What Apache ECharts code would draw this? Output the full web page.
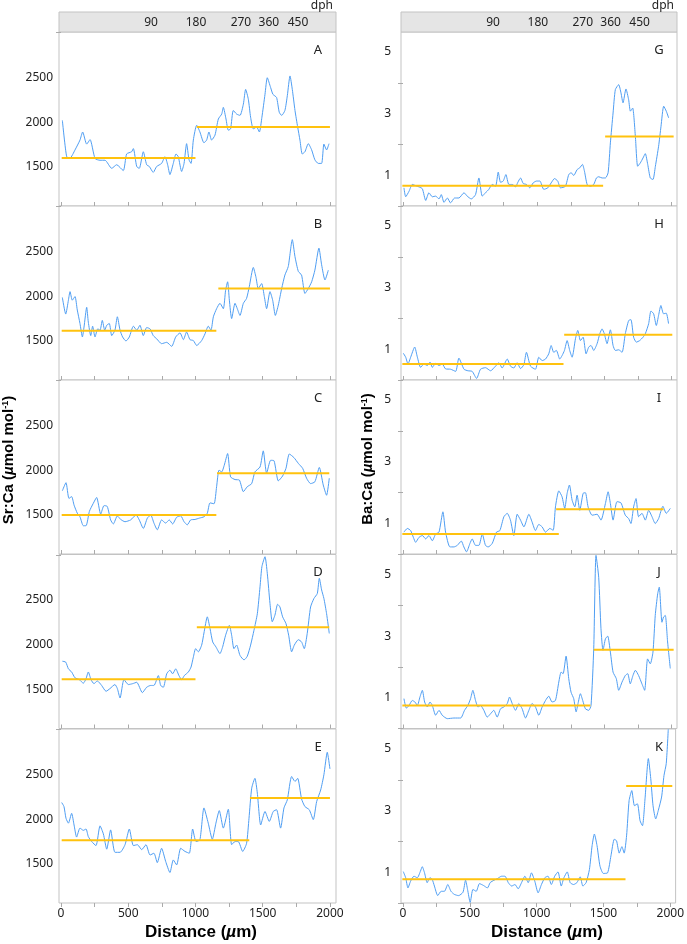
<!DOCTYPE html>
<html>
<head>
<meta charset="utf-8">
<script src="https://cdn.jsdelivr.net/npm/echarts@6/dist/echarts.min.js"></script>
<style>
html,body{margin:0;padding:0;background:#fff;}
#chart{width:687px;height:944px;}
</style>
</head>
<body>
<div id="chart"></div>
<script>
// ---- Data: [distance (µm), ratio] ----
const srA = [[10,2020],[42,1615],[67,1600],[104,1690],[141,1800],[161,1890],[191,1755],[216,1805],[253,1595],[290,1575],[327,1575],[377,1485],[414,1525],[463,1460],[488,1645],[525,1670],[538,1705],[563,1505],[582,1485],[612,1670],[637,1525],[657,1505],[686,1440],[711,1505],[748,1540],[773,1615],[793,1525],[810,1415],[835,1540],[855,1645],[872,1615],[897,1450],[915,1540],[934,1760],[952,1580],[967,1540],[984,1800],[1009,1965],[1033,1890],[1063,1770],[1083,1800],[1100,1890],[1120,1800],[1145,1855],[1170,2035],[1195,2090],[1207,2165],[1227,2035],[1244,1910],[1261,1925],[1281,2130],[1306,2090],[1331,2075],[1356,2200],[1373,2365],[1393,2255],[1410,2055],[1430,1925],[1455,1945],[1475,1890],[1494,2055],[1517,2310],[1534,2495],[1559,2385],[1576,2310],[1603,2275],[1623,2110],[1641,2075],[1665,2130],[1683,2295],[1703,2515],[1720,2365],[1740,2130],[1760,1945],[1777,1800],[1794,1645],[1814,1670],[1839,1760],[1864,1690],[1888,1580],[1913,1540],[1938,1540],[1955,1755],[1975,1690],[1993,1760]];
const srB = [[10,1985],[35,1800],[55,1955],[67,2050],[84,1955],[104,1995],[121,1845],[141,1695],[159,1545],[171,1655],[191,1875],[203,1710],[221,1560],[235,1665],[253,1545],[273,1635],[290,1620],[307,1730],[325,1620],[340,1675],[359,1695],[377,1560],[401,1620],[419,1770],[439,1620],[458,1545],[483,1500],[508,1545],[538,1665],[563,1620],[587,1675],[612,1560],[637,1650],[662,1635],[686,1560],[711,1525],[748,1470],[786,1485],[823,1440],[853,1545],[885,1590],[910,1515],[934,1600],[959,1515],[984,1505],[1009,1450],[1046,1505],[1071,1580],[1095,1665],[1115,1620],[1133,1770],[1157,1860],[1182,1920],[1207,1860],[1224,2065],[1239,2160],[1252,1955],[1269,1750],[1294,1920],[1311,1860],[1331,1785],[1356,1920],[1380,1975],[1400,2105],[1430,2320],[1450,2210],[1467,2085],[1492,2140],[1512,1995],[1529,1860],[1554,2050],[1574,1955],[1594,1785],[1616,1900],[1641,2085],[1665,2235],[1690,2330],[1720,2630],[1740,2440],[1765,2275],[1789,2235],[1814,2030],[1839,2085],[1864,2160],[1888,2290],[1918,2535],[1938,2350],[1963,2180],[1988,2290]];
const srC = [[10,1770],[37,1860],[59,1685],[79,1705],[97,1610],[121,1520],[141,1480],[166,1380],[186,1380],[211,1540],[240,1630],[265,1695],[295,1510],[320,1605],[344,1595],[369,1445],[389,1400],[419,1490],[444,1450],[476,1425],[518,1445],[558,1500],[582,1445],[612,1350],[642,1465],[667,1500],[691,1410],[716,1335],[748,1445],[778,1410],[805,1445],[830,1400],[860,1475],[890,1490],[915,1425],[939,1390],[964,1445],[996,1450],[1029,1465],[1063,1480],[1088,1520],[1108,1635],[1138,1625],[1157,1815],[1175,2000],[1195,1980],[1214,2055],[1239,2185],[1261,1925],[1294,1895],[1326,1890],[1356,1760],[1385,1815],[1418,1850],[1442,1980],[1480,2035],[1504,2215],[1529,1965],[1559,2110],[1584,2105],[1616,1880],[1648,1935],[1673,2020],[1698,2180],[1732,2140],[1765,2075],[1797,2020],[1826,1910],[1856,1850],[1888,1870],[1921,2030],[1950,1835],[1975,1720],[1995,1910]];
const srD = [[10,1815],[35,1805],[55,1730],[79,1695],[104,1630],[136,1610],[166,1570],[186,1620],[203,1695],[223,1610],[245,1565],[270,1595],[302,1545],[335,1480],[364,1510],[401,1555],[419,1510],[439,1405],[468,1610],[501,1555],[533,1565],[563,1580],[605,1465],[637,1525],[667,1545],[691,1545],[724,1655],[741,1545],[761,1525],[786,1675],[810,1715],[830,1675],[853,1730],[877,1655],[897,1610],[917,1655],[947,1695],[967,1750],[984,1860],[1001,1955],[1021,1920],[1046,1995],[1063,2130],[1088,2310],[1108,2180],[1128,2030],[1152,1975],[1182,1900],[1202,1975],[1224,2105],[1252,2215],[1269,2105],[1286,1955],[1306,1995],[1331,1880],[1361,1830],[1385,1870],[1410,1995],[1435,2160],[1460,2345],[1480,2645],[1494,2870],[1517,2980],[1534,2795],[1554,2460],[1571,2255],[1591,2330],[1611,2450],[1628,2420],[1648,2310],[1673,2235],[1693,2105],[1715,1920],[1735,1995],[1765,2055],[1789,2030],[1809,1955],[1831,2125],[1856,2420],[1881,2515],[1906,2570],[1921,2740],[1938,2610],[1955,2515],[1975,2345],[1995,2125]];
const srE = [[5,2185],[22,2140],[37,2010],[55,1955],[79,2065],[97,1935],[116,1800],[141,1900],[166,1875],[186,1890],[203,1805],[228,1750],[260,1705],[290,1925],[315,1835],[340,1665],[369,1880],[401,1630],[439,1630],[476,1715],[508,1890],[538,1705],[568,1715],[600,1660],[632,1715],[662,1600],[691,1620],[716,1515],[748,1675],[778,1530],[810,1405],[835,1545],[860,1490],[890,1675],[922,1640],[954,1620],[979,1890],[1004,1750],[1033,1770],[1063,2125],[1095,1955],[1125,1775],[1152,1955],[1177,2095],[1207,1900],[1244,2110],[1269,1715],[1294,1750],[1318,1750],[1351,1640],[1380,1730],[1398,2010],[1418,2345],[1442,2455],[1460,2290],[1485,1935],[1517,2085],[1549,1975],[1578,2085],[1603,2105],[1633,1900],[1658,2125],[1683,2215],[1715,2475],[1740,2420],[1760,2455],[1789,2225],[1814,2140],[1846,2105],[1876,1995],[1901,2195],[1931,2325],[1955,2495],[1980,2745],[2000,2560]];

const baG = [[7,0.59],[20,0.30],[45,0.48],[69,0.70],[94,0.66],[119,0.62],[144,0.56],[169,0.18],[193,0.43],[218,0.30],[243,0.32],[268,0.23],[285,0.37],[305,0.12],[330,0.26],[354,0.10],[384,0.26],[416,0.26],[454,0.43],[478,0.32],[508,0.23],[540,0.37],[565,0.91],[590,0.32],[614,0.43],[639,0.54],[664,0.70],[689,0.64],[709,1.10],[726,0.77],[746,0.81],[766,1.02],[788,0.70],[813,0.70],[838,0.62],[855,0.77],[875,0.91],[895,0.73],[919,0.70],[944,0.59],[969,0.75],[994,0.81],[1019,0.81],[1048,0.54],[1078,0.59],[1103,0.75],[1128,0.89],[1152,0.81],[1172,0.59],[1209,0.64],[1234,1.02],[1252,1.08],[1271,0.99],[1296,1.18],[1316,1.24],[1336,1.35],[1351,1.13],[1371,0.70],[1395,0.64],[1420,0.70],[1440,0.91],[1457,0.95],[1482,0.91],[1507,0.91],[1527,1.08],[1544,2.05],[1564,3.02],[1581,3.78],[1606,3.94],[1623,3.67],[1638,3.35],[1660,3.80],[1680,3.45],[1693,3.08],[1710,3.18],[1730,2.26],[1747,1.29],[1767,1.40],[1787,1.56],[1804,1.70],[1822,1.35],[1841,0.91],[1861,0.86],[1879,1.29],[1903,1.94],[1921,2.59],[1941,3.24],[1960,3.08],[1978,2.86]];
const baH = [[2,0.87],[20,0.74],[37,0.52],[57,0.74],[87,1.07],[107,0.74],[131,0.41],[156,0.52],[181,0.47],[201,0.58],[218,0.41],[243,0.54],[268,0.47],[292,0.52],[317,0.36],[354,0.35],[392,0.28],[416,0.71],[454,0.35],[483,0.30],[515,0.28],[548,0.05],[577,0.35],[614,0.40],[652,0.30],[689,0.45],[714,0.56],[738,0.39],[776,0.68],[800,0.45],[825,0.39],[850,0.56],[875,0.37],[900,0.50],[919,0.90],[949,0.45],[986,0.35],[1011,0.74],[1036,0.63],[1061,0.68],[1085,0.85],[1103,1.12],[1122,0.90],[1142,0.96],[1167,0.68],[1184,0.79],[1202,0.96],[1222,1.28],[1241,0.96],[1259,0.74],[1284,1.34],[1301,1.61],[1321,1.28],[1341,1.39],[1363,0.85],[1383,1.07],[1400,1.12],[1420,0.96],[1445,1.18],[1465,1.50],[1482,1.66],[1499,1.50],[1519,1.18],[1544,1.63],[1564,1.12],[1581,0.96],[1606,0.98],[1631,0.90],[1655,1.50],[1680,1.93],[1697,1.96],[1717,1.39],[1737,1.23],[1762,1.28],[1787,1.39],[1804,1.50],[1829,1.83],[1846,2.24],[1866,2.15],[1886,1.77],[1903,2.10],[1920,2.42],[1940,2.15],[1960,2.17],[1977,1.83]];
const baI = [[7,0.71],[32,0.83],[57,0.76],[77,0.54],[94,0.38],[119,0.54],[144,0.60],[169,0.49],[193,0.60],[218,0.43],[243,0.65],[268,0.71],[297,1.37],[317,0.71],[349,0.23],[379,0.23],[404,0.28],[434,0.42],[453,0.23],[473,0.07],[498,0.34],[515,0.49],[540,0.28],[565,0.28],[590,0.65],[614,0.28],[634,0.23],[664,0.34],[696,0.71],[721,0.76],[751,1.21],[776,1.32],[800,1.10],[825,0.60],[850,1.29],[875,1.10],[900,0.88],[937,1.29],[961,1.04],[986,0.76],[1011,0.96],[1036,0.88],[1061,0.71],[1093,0.83],[1118,0.77],[1135,1.53],[1160,2.05],[1184,1.86],[1204,1.48],[1222,1.97],[1239,2.24],[1259,1.75],[1279,1.53],[1296,1.91],[1316,1.42],[1341,1.97],[1358,1.99],[1378,1.53],[1408,1.26],[1445,1.29],[1474,1.10],[1507,1.64],[1527,2.02],[1544,1.64],[1564,1.10],[1593,1.70],[1623,1.66],[1655,1.26],[1680,1.15],[1697,0.99],[1717,1.53],[1735,1.80],[1754,1.21],[1779,1.32],[1804,1.10],[1829,1.42],[1854,1.21],[1878,0.99],[1903,1.15],[1935,1.55],[1960,1.32],[1990,1.48]];
const baJ = [[7,0.97],[25,0.66],[45,0.75],[69,0.91],[89,0.86],[107,0.75],[126,1.02],[144,1.24],[161,0.86],[181,0.70],[201,0.86],[218,0.75],[243,0.43],[268,0.59],[292,0.43],[330,0.32],[379,0.34],[429,0.34],[458,0.59],[483,0.75],[503,0.97],[520,1.24],[540,0.91],[558,0.70],[577,0.75],[602,0.59],[627,0.37],[652,0.48],[676,0.59],[701,0.37],[726,0.64],[751,0.70],[776,0.81],[793,1.02],[813,0.81],[838,0.59],[862,0.81],[887,0.64],[912,0.34],[937,0.59],[961,0.81],[986,0.70],[1011,0.43],[1036,0.70],[1061,0.91],[1085,1.05],[1110,0.86],[1135,0.91],[1160,1.51],[1177,1.83],[1192,1.78],[1214,2.35],[1234,1.62],[1251,1.18],[1271,0.97],[1289,0.54],[1303,0.81],[1321,1.13],[1338,0.91],[1358,0.64],[1383,0.59],[1400,0.75],[1420,2.59],[1437,5.62],[1457,4.91],[1474,3.24],[1489,2.54],[1507,2.91],[1524,3.00],[1544,2.48],[1564,1.83],[1588,1.62],[1606,1.24],[1631,1.51],[1655,1.72],[1673,1.78],[1692,1.45],[1712,1.72],[1730,1.89],[1754,1.72],[1779,1.45],[1799,1.24],[1821,2.26],[1841,2.10],[1861,2.48],[1878,3.67],[1896,4.37],[1908,4.59],[1928,3.45],[1940,3.62],[1953,3.67],[1970,2.81],[1990,1.95]];
const baK = [[2,1.02],[20,0.82],[37,0.49],[57,0.71],[82,0.87],[107,0.82],[131,1.04],[144,1.18],[161,0.98],[181,0.66],[201,0.82],[218,0.77],[235,0.55],[260,0.24],[285,0.38],[310,0.38],[335,0.60],[359,0.38],[384,0.28],[416,0.24],[449,0.35],[468,0.74],[483,0.44],[503,0.02],[523,0.44],[548,0.38],[572,0.63],[602,0.57],[632,0.49],[652,0.66],[681,0.74],[706,0.79],[738,0.87],[763,0.87],[788,0.66],[813,0.55],[838,0.60],[862,0.46],[887,0.66],[912,0.87],[937,0.66],[961,0.98],[986,0.71],[1011,0.33],[1036,0.60],[1061,0.82],[1085,0.87],[1110,0.60],[1135,0.87],[1160,1.01],[1184,0.55],[1204,0.82],[1229,1.01],[1251,0.66],[1276,0.60],[1301,0.66],[1326,0.85],[1346,0.55],[1370,0.66],[1395,1.09],[1415,1.86],[1432,2.24],[1452,1.86],[1474,1.20],[1499,0.96],[1531,0.98],[1556,1.53],[1581,2.07],[1598,2.02],[1618,1.62],[1638,1.83],[1655,1.62],[1673,2.18],[1692,3.33],[1712,3.65],[1732,3.16],[1754,3.22],[1774,2.67],[1792,2.51],[1811,3.38],[1836,4.69],[1854,4.04],[1871,3.16],[1891,2.73],[1910,3.00],[1935,3.44],[1953,4.14],[1970,4.53],[1985,5.64]];

// mean segments: [start distance, end distance, mean value]
const meanA = [[5,1000,1600],[1010,2000,1945]];
const meanB = [[5,1155,1615],[1170,2000,2085]];
const meanC = [[5,1155,1500],[1160,1995,1965]];
const meanD = [[5,1000,1615],[1010,1995,2195]];
const meanE = [[5,1400,1765],[1405,2000,2235]];
const meanG = [[-5,1490,0.66],[1505,2015,2.26]];
const meanH = [[-5,1195,0.52],[1200,2005,1.47]];
const meanI = [[-5,1160,0.65],[1140,1940,1.45]];
const meanJ = [[-5,1395,0.75],[1420,2015,2.56]];
const meanK = [[-5,1665,0.77],[1670,2015,3.80]];

const panelLetters = ['A','B','C','D','E','G','H','I','J','K'];
const xTickValues = [0,250,500,750,1000,1250,1500,1750,2000];
const xLabelValues = [0,500,1000,1500,2000];
const srLabelValues = [1500,2000,2500];
const baLabelValues = [1,3,5];
const dphLabels = ['90','180','270','360','450'];
const dphPositions = [670,1004,1338,1546,1762];

// ---- Layout ----
const lines = [srA,srB,srC,srD,srE,baG,baH,baI,baJ,baK];
const means = [meanA,meanB,meanC,meanD,meanE,meanG,meanH,meanI,meanJ,meanK];
const rowTops = [32,206,380,554.5,729];
const rowH = 174;
const col = [{left:59,width:277,xmax:2045},{left:401,width:276,xmax:2040}];
const BLUE = '#4f9ef3', GOLD = '#ffc20e', FRAME = '#c3c3c3', TXT = '#222';
const tickFont = 'Noto Sans';
const plain = (v)=>String(v);

const grid=[], xAxis=[], yAxis=[], series=[], graphic=[];
for (let i=0;i<10;i++){
  const c = i<5?0:1, r = i%5;
  const g = col[c];
  grid.push({left:g.left, top:rowTops[r], width:g.width, height:rowH, show:true, borderColor:FRAME, borderWidth:1, backgroundColor:'#fff'});
  xAxis.push({type:'value', gridIndex:i, min:-15, max:g.xmax,
    axisLine:{show:false}, splitLine:{show:false},
    axisTick:{show:true, inside:r<4, length:4, customValues:xTickValues, lineStyle:{color:'#aaa'}},
    axisLabel:{show:r===4, customValues:xLabelValues, formatter:plain, fontFamily:tickFont, fontSize:12, color:TXT, margin:5}
  });
  const isSr = c===0;
  yAxis.push({type:'value', gridIndex:i, min:isSr?1065:0, max:isSr?3005:5.65,
    axisLine:{show:false}, splitLine:{show:false},
    axisTick:{show:true, length:5, customValues:isSr?[3000]:[0,2,4], lineStyle:{color:'#aaa'}},
    axisLabel:{customValues:isSr?srLabelValues:baLabelValues, formatter:plain, fontFamily:tickFont, fontSize:12, color:TXT, margin:isSr?6:10}
  });
  series.push({type:'line', xAxisIndex:i, yAxisIndex:i, data:lines[i], showSymbol:false, smooth:0.2,
    lineStyle:{color:BLUE, width:1}, z:2, silent:true, animation:false});
  means[i].forEach(s=>{
    series.push({type:'line', xAxisIndex:i, yAxisIndex:i, data:[[s[0],s[2]],[s[1],s[2]]], showSymbol:false,
      lineStyle:{color:GOLD, width:2}, z:3, silent:true, animation:false});
  });
  graphic.push({type:'text', x:g.left+g.width-18, y:rowTops[r]+18, z:10,
    style:{text:panelLetters[i], fill:TXT, font:'13px "Noto Sans"', align:'center', verticalAlign:'middle'}});
}
// header bars (dph)
for (let c=0;c<2;c++){
  const g = col[c];
  const gi = grid.length;
  grid.push({left:g.left, top:12, width:g.width, height:20, show:true, borderColor:FRAME, borderWidth:1, backgroundColor:'#e5e5e5'});
  xAxis.push({type:'value', gridIndex:gi, min:-15, max:g.xmax, position:'bottom',
    axisLine:{show:false}, splitLine:{show:false}, axisTick:{show:false},
    axisLabel:{inside:true, margin:3, customValues:dphPositions, fontFamily:tickFont, fontSize:12, color:TXT,
      formatter:(v)=>{const k=dphPositions.indexOf(v); return k>=0?dphLabels[k]:'';}}
  });
  yAxis.push({type:'value', gridIndex:gi, min:0, max:1, show:false});
  graphic.push({type:'text', x:g.left+g.width-3, y:6, style:{text:'dph', fill:TXT, font:'12px "Noto Sans"', align:'right', verticalAlign:'middle'}});
}

const titleRich = {
  b:{fontFamily:'Liberation Sans', fontWeight:'bold', fontSize:15, fill:'#000', color:'#000'},
  i:{fontFamily:'Liberation Sans', fontWeight:'bold', fontStyle:'italic', fontSize:15, fill:'#000', color:'#000'},
  s:{fontFamily:'Liberation Sans', fontWeight:'bold', fontSize:9, fill:'#000', color:'#000', verticalAlign:'top', lineHeight:15}
};
const xRich = {
  b:{fontFamily:'Liberation Sans', fontWeight:'bold', fontSize:17, fill:'#000', color:'#000'},
  i:{fontFamily:'Liberation Sans', fontWeight:'bold', fontStyle:'italic', fontSize:17, fill:'#000', color:'#000'}
};
graphic.push({type:'text', x:9, y:460, rotation:Math.PI/2, z:10,
  style:{text:'{b|Sr:Ca (}{i|µ}{b|mol mol}{s|-1}{b|)}', rich:titleRich, align:'center', verticalAlign:'middle'}});
graphic.push({type:'text', x:368, y:459, rotation:Math.PI/2, z:10,
  style:{text:'{b|Ba:Ca (}{i|µ}{b|mol mol}{s|-1}{b|)}', rich:titleRich, align:'center', verticalAlign:'middle'}});
graphic.push({type:'text', x:201, y:932, z:10,
  style:{text:'{b|Distance (}{i|µ}{b|m)}', rich:xRich, align:'center', verticalAlign:'middle'}});
graphic.push({type:'text', x:547, y:932, z:10,
  style:{text:'{b|Distance (}{i|µ}{b|m)}', rich:xRich, align:'center', verticalAlign:'middle'}});

const chart = echarts.init(document.getElementById('chart'), null, {renderer:'canvas'});
chart.setOption({animation:false, backgroundColor:'#fff', grid, xAxis, yAxis, series, graphic});
</script>
</body>
</html>
